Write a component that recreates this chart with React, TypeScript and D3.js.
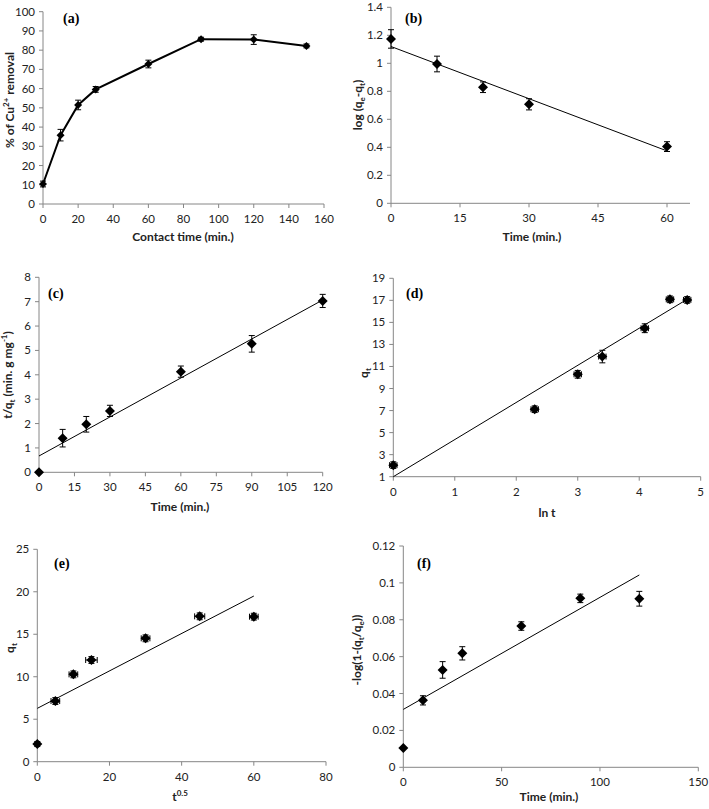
import React from "react";
import * as d3 from "d3";

// ---------- DATA ----------
// (a) removal vs contact time
const timeA = [0, 10, 20, 30, 60, 90, 120, 150];
const removalA = [10.4, 35.8, 51.5, 59.6, 72.8, 85.7, 85.5, 82.2];
const removalErrA = [1.5, 3, 2.5, 1.5, 2, 1, 2.5, 1];

// (b) pseudo first order
const timeB = [0, 10, 20, 30, 60];
const logB = [1.174, 0.995, 0.829, 0.707, 0.405];
const logErrB = [0.066, 0.056, 0.038, 0.04, 0.035];
const fitB = { intercept: 1.12, slope: -0.01243, xMax: 60 };

// (c) pseudo second order
const timeC = [0, 10, 20, 30, 60, 90, 120];
const tqC = [0, 1.4, 1.97, 2.52, 4.13, 5.27, 7.03];
const tqErrC = [0, 0.36, 0.32, 0.23, 0.23, 0.34, 0.27];
const fitC = { intercept: 0.67, slope: 0.05333, xMax: 120 };

// (d) Elovich
const lnTD = [0, 2.3, 3.0, 3.4, 4.09, 4.5, 4.78];
const qtD = [2.05, 7.12, 10.29, 11.9, 14.47, 17.09, 17.04];
const qtErrD = [0.3, 0.3, 0.35, 0.57, 0.4, 0.3, 0.3];
const lnTErrD = [0.06, 0.06, 0.06, 0.06, 0.06, 0.06, 0.06];
const fitD = { intercept: 1.0, slope: 3.368, xMax: 4.78 };

// (e) intraparticle diffusion
const tE = [0, 5, 10, 15, 30, 45, 60];
const qtE = [2.08, 7.14, 10.28, 11.97, 14.52, 17.11, 17.07];
const qtErrE = [0.3, 0.4, 0.4, 0.4, 0.4, 0.4, 0.4];
const tErrE = [0, 1.2, 1.2, 1.6, 1.2, 1.4, 1.2];
const fitE = { intercept: 6.28, slope: 0.2203, xMax: 60 };

// (f) liquid film diffusion
const timeF = [0, 10, 20, 30, 60, 90, 120];
const logF = [0.0105, 0.0363, 0.0528, 0.0618, 0.0766, 0.0916, 0.0914];
const logErrF = [0, 0.0025, 0.0045, 0.0036, 0.0023, 0.0023, 0.004];
const fitF = { intercept: 0.0314, slope: 0.0006075, xMax: 120 };

// tick labels
const ticksAX = [0, 20, 40, 60, 80, 100, 120, 140, 160];
const ticksAY = [0, 10, 20, 30, 40, 50, 60, 70, 80, 90, 100];
const ticksBX = [0, 15, 30, 45, 60];
const ticksBY = [0, 0.2, 0.4, 0.6, 0.8, 1, 1.2, 1.4];
const ticksCX = [0, 15, 30, 45, 60, 75, 90, 105, 120];
const ticksCY = [0, 1, 2, 3, 4, 5, 6, 7, 8];
const ticksDX = [0, 1, 2, 3, 4, 5];
const ticksDY = [1, 3, 5, 7, 9, 11, 13, 15, 17, 19];
const ticksEX = [0, 20, 40, 60, 80];
const ticksEY = [0, 5, 10, 15, 20, 25];
const ticksFX = [0, 50, 100, 150];
const ticksFY = [0, 0.02, 0.04, 0.06, 0.08, 0.1, 0.12];

const FONT = "Lato, 'Open Sans', sans-serif";
const AXIS = "#868686";

type Fit = { intercept: number; slope: number; xMax: number };

interface PanelProps {
  xr: [number, number];
  yr: [number, number];
  xd: [number, number];
  yd: [number, number];
  xTicks: number[];
  yTicks: number[];
  xs: number[];
  ys: number[];
  yErr: number[];
  xErr?: number[];
  fit?: Fit;
  connect?: boolean;
  r: number;
  tag: string;
  tagPos: [number, number];
  xTitle: React.ReactNode;
  xTitlePos: [number, number];
  yTitle: React.ReactNode;
  yTitlePos: [number, number];
}

function Panel(p: PanelProps) {
  const x = d3.scaleLinear().domain(p.xd).range(p.xr);
  const y = d3.scaleLinear().domain(p.yd).range(p.yr);
  const y0 = p.yr[0];
  const x0 = p.xr[0];
  const diamond = (cx: number, cy: number, r: number) =>
    `M${cx},${cy - r}L${cx + r},${cy}L${cx},${cy + r}L${cx - r},${cy}Z`;
  const line = d3
    .line<number>()
    .x((_, i) => x(p.xs[i]))
    .y((v) => y(v));
  return (
    <g>
      {/* axes */}
      <line x1={x0} x2={p.xr[1]} y1={y0} y2={y0} stroke={AXIS} strokeWidth={1} />
      <line x1={x0} x2={x0} y1={y0} y2={p.yr[1]} stroke={AXIS} strokeWidth={1} />
      {p.xTicks.map((t) => (
        <g key={"xt" + t}>
          <line x1={x(t)} x2={x(t)} y1={y0} y2={y0 + 4} stroke={AXIS} />
          <text x={x(t)} y={y0 + 19} textAnchor="middle" fontSize={11.5} fontFamily={FONT} fill="#222">
            {String(t)}
          </text>
        </g>
      ))}
      {p.yTicks.map((t) => (
        <g key={"yt" + t}>
          <line x1={x0 - 4} x2={x0} y1={y(t)} y2={y(t)} stroke={AXIS} />
          <text x={x0 - 8} y={y(t) + 4} textAnchor="end" fontSize={11.5} fontFamily={FONT} fill="#222">
            {String(t)}
          </text>
        </g>
      ))}
      {/* fit line */}
      {p.fit && (
        <line
          x1={x(0)}
          y1={y(p.fit.intercept)}
          x2={x(p.fit.xMax)}
          y2={y(p.fit.intercept + p.fit.slope * p.fit.xMax)}
          stroke="#000"
          strokeWidth={1}
        />
      )}
      {p.connect && <path d={line(p.ys) || ""} fill="none" stroke="#000" strokeWidth={2} />}
      {/* error bars */}
      {p.ys.map((v, i) => {
        const e = p.yErr[i];
        const cx = x(p.xs[i]);
        if (!e) return null;
        return (
          <g key={"ye" + i} stroke="#000" strokeWidth={1}>
            <line x1={cx} x2={cx} y1={y(v - e)} y2={y(v + e)} />
            <line x1={cx - 3} x2={cx + 3} y1={y(v - e)} y2={y(v - e)} />
            <line x1={cx - 3} x2={cx + 3} y1={y(v + e)} y2={y(v + e)} />
          </g>
        );
      })}
      {p.xErr &&
        p.ys.map((v, i) => {
          const e = p.xErr![i];
          if (!e) return null;
          const cy = y(v);
          return (
            <g key={"xe" + i} stroke="#000" strokeWidth={1}>
              <line x1={x(p.xs[i] - e)} x2={x(p.xs[i] + e)} y1={cy} y2={cy} />
              <line x1={x(p.xs[i] - e)} x2={x(p.xs[i] - e)} y1={cy - 3} y2={cy + 3} />
              <line x1={x(p.xs[i] + e)} x2={x(p.xs[i] + e)} y1={cy - 3} y2={cy + 3} />
            </g>
          );
        })}
      {p.ys.map((v, i) => (
        <path key={"m" + i} d={diamond(x(p.xs[i]), y(v), p.r)} fill="#000" />
      ))}
      <text
        x={p.tagPos[0]}
        y={p.tagPos[1]}
        fontFamily="'Liberation Serif', 'Times New Roman', serif"
        fontWeight="bold"
        fontSize={14}
      >
        {p.tag}
      </text>
      <text
        x={p.xTitlePos[0]}
        y={p.xTitlePos[1]}
        textAnchor="middle"
        fontFamily={FONT}
        fontWeight="bold"
        fontSize={12}
        fill="#222"
      >
        {p.xTitle}
      </text>
      <text
        transform={`translate(${p.yTitlePos[0]},${p.yTitlePos[1]}) rotate(-90)`}
        textAnchor="middle"
        fontFamily={FONT}
        fontWeight="bold"
        fontSize={12}
        fill="#222"
      >
        {p.yTitle}
      </text>
    </g>
  );
}

const sub = (t: string) => (
  <tspan fontSize={8} dy={3}>
    {t}
  </tspan>
);

export default function App() {
  return (
    <svg width={709} height={809} style={{ position: "absolute", left: 0, top: 0, background: "#fff" }}>
      <rect width={709} height={809} fill="#fff" />
      <Panel
        xr={[43, 324]}
        yr={[204, 11.7]}
        xd={[0, 160]}
        yd={[0, 100]}
        xTicks={ticksAX}
        yTicks={ticksAY}
        xs={timeA}
        ys={removalA}
        yErr={removalErrA}
        connect
        r={4}
        tag="(a)"
        tagPos={[63, 23]}
        xTitle="Contact time (min.)"
        xTitlePos={[183, 241]}
        yTitle={
          <>
            % of Cu
            <tspan fontSize={8} dy={-5}>
              2+
            </tspan>
            <tspan dy={5}> removal</tspan>
          </>
        }
        yTitlePos={[14, 100]}
      />
      <Panel
        xr={[391, 690]}
        yr={[203.3, 7.3]}
        xd={[0, 65]}
        yd={[0, 1.4]}
        xTicks={ticksBX}
        yTicks={ticksBY}
        xs={timeB}
        ys={logB}
        yErr={logErrB}
        fit={fitB}
        r={5}
        tag="(b)"
        tagPos={[405, 23]}
        xTitle="Time (min.)"
        xTitlePos={[532, 241]}
        yTitle={
          <>
            log (q{sub("e")}
            <tspan dy={-3}>-q</tspan>
            {sub("t")}
            <tspan dy={-3}>)</tspan>
          </>
        }
        yTitlePos={[362, 105]}
      />
      <Panel
        xr={[39, 322.7]}
        yr={[472.3, 277.3]}
        xd={[0, 120]}
        yd={[0, 8]}
        xTicks={ticksCX}
        yTicks={ticksCY}
        xs={timeC}
        ys={tqC}
        yErr={tqErrC}
        fit={fitC}
        r={5}
        tag="(c)"
        tagPos={[48, 298]}
        xTitle="Time (min.)"
        xTitlePos={[180, 511]}
        yTitle={
          <>
            t/q{sub("t")}
            <tspan dy={-3}> (min. g mg</tspan>
            <tspan fontSize={8} dy={-5}>
              -1
            </tspan>
            <tspan dy={5}>)</tspan>
          </>
        }
        yTitlePos={[12, 375]}
      />
      <Panel
        xr={[393.3, 700.7]}
        yr={[476.7, 278.3]}
        xd={[0, 5]}
        yd={[1, 19]}
        xTicks={ticksDX}
        yTicks={ticksDY}
        xs={lnTD}
        ys={qtD}
        yErr={qtErrD}
        xErr={lnTErrD}
        fit={fitD}
        r={5}
        tag="(d)"
        tagPos={[406, 298]}
        xTitle="ln t"
        xTitlePos={[547, 517]}
        yTitle={<>q{sub("t")}</>}
        yTitlePos={[368, 373]}
      />
      <Panel
        xr={[37.3, 326]}
        yr={[761.7, 549.3]}
        xd={[0, 80]}
        yd={[0, 25]}
        xTicks={ticksEX}
        yTicks={ticksEY}
        xs={tE}
        ys={qtE}
        yErr={qtErrE}
        xErr={tErrE}
        fit={fitE}
        r={5}
        tag="(e)"
        tagPos={[54, 568]}
        xTitle={
          <>
            t
            <tspan fontSize={8} dy={-5}>
              0.5
            </tspan>
          </>
        }
        xTitlePos={[180, 801]}
        yTitle={<>q{sub("t")}</>}
        yTitlePos={[14, 648]}
      />
      <Panel
        xr={[403.3, 698.3]}
        yr={[767.3, 546]}
        xd={[0, 150]}
        yd={[0, 0.12]}
        xTicks={ticksFX}
        yTicks={ticksFY}
        xs={timeF}
        ys={logF}
        yErr={logErrF}
        fit={fitF}
        r={5}
        tag="(f)"
        tagPos={[417, 568]}
        xTitle="Time (min.)"
        xTitlePos={[549, 801]}
        yTitle={
          <>
            -log(1-(q{sub("t")}
            <tspan dy={-3}>/q</tspan>
            {sub("e")}
            <tspan dy={-3}>))</tspan>
          </>
        }
        yTitlePos={[361, 650]}
      />
    </svg>
  );
}
